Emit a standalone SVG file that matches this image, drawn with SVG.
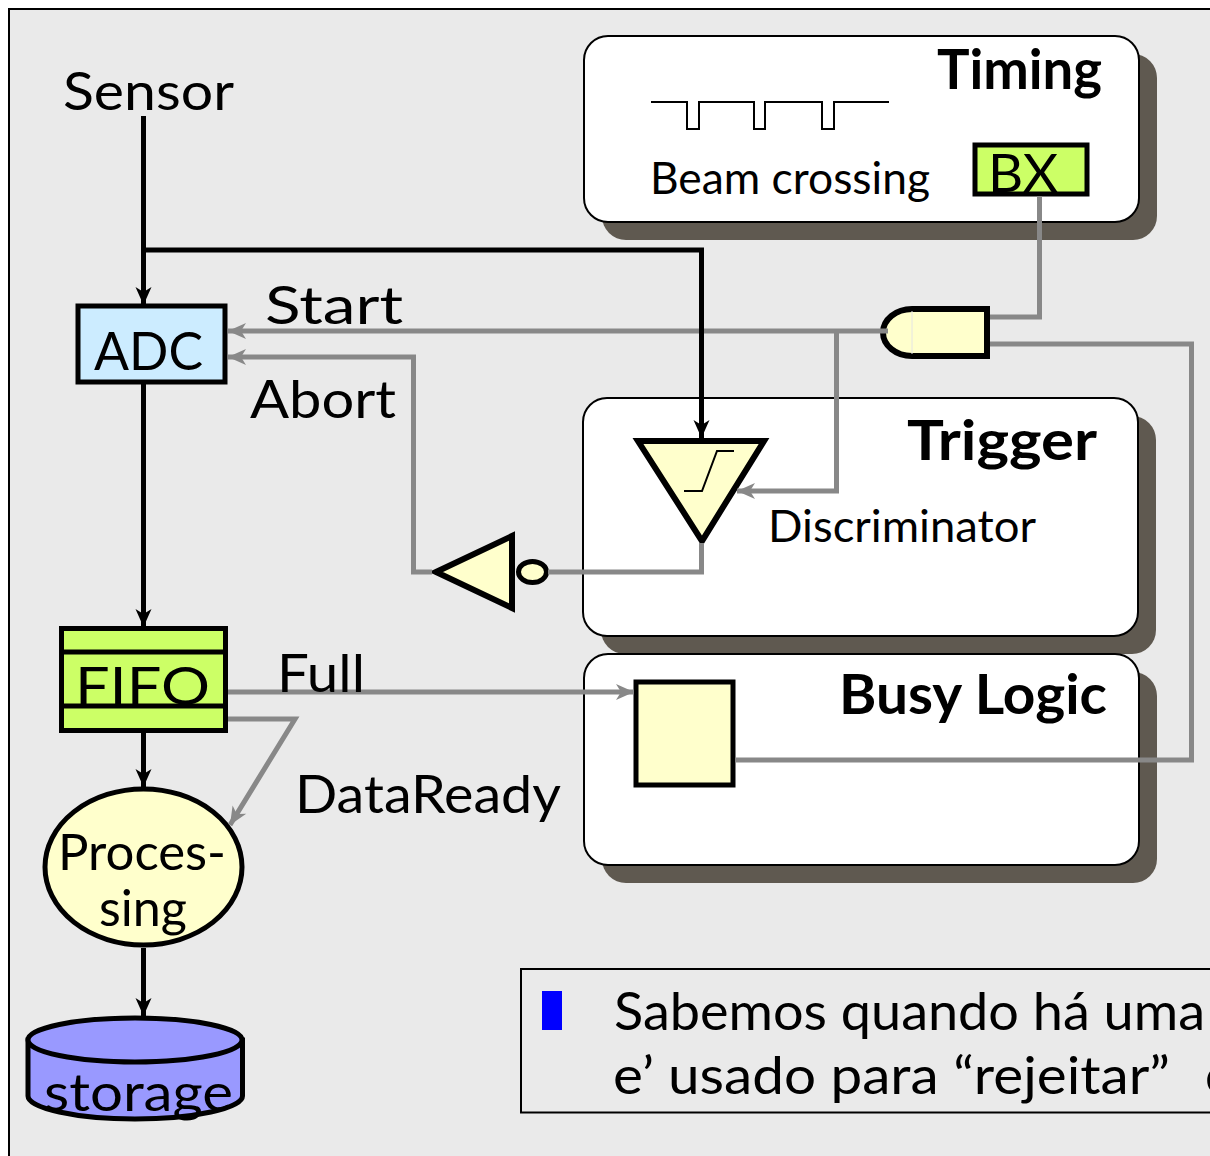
<svg xmlns="http://www.w3.org/2000/svg" width="1210" height="1156" viewBox="0 0 1210 1156">
<style>
text{font-family:"Lato","Noto Sans",sans-serif;fill:#000;font-size:52px}
.b{font-weight:700;font-size:56px}
.s{font-size:44px}
.panel{fill:#fff;stroke:#000;stroke-width:2}
.shadow{fill:#5f5950}
.n{stroke:#000;stroke-width:5;stroke-linejoin:miter}
.w{stroke-width:6}
.y{fill:#ffffcc}
.g{fill:#ccff66}
.k{fill:none;stroke:#000;stroke-width:5;stroke-linejoin:miter}
.a{fill:none;stroke:#888;stroke-width:5;stroke-linejoin:miter}
.t{fill:none;stroke:#000;stroke-width:2}
.ka{marker-end:url(#ah)}
.ga{marker-end:url(#gh)}
</style>
<defs>
<marker id="ah" markerUnits="userSpaceOnUse" markerWidth="22" markerHeight="22" refX="19" refY="11" orient="auto" overflow="visible"><path d="M19,11 L1,3 L6,11 L1,19 Z" fill="#000"/></marker>
<marker id="gh" markerUnits="userSpaceOnUse" markerWidth="22" markerHeight="22" refX="19" refY="11" orient="auto" overflow="visible"><path d="M19,11 L1,3 L6,11 L1,19 Z" fill="#888"/></marker>
</defs>
<rect width="1210" height="1156" fill="#fff"/>
<rect x="9" y="9" width="1210" height="1160" fill="#eaeaea" stroke="#000" stroke-width="2"/>

<g id="timing">
<rect class="shadow" x="602" y="54" width="555" height="186" rx="24"/>
<rect class="panel" x="584" y="36" width="555" height="186" rx="24"/>
<text class="b" x="937" y="89" textLength="165" lengthAdjust="spacingAndGlyphs">Timing</text>
<polyline class="t" points="651,102 687,102 687,129 699,129 699,102 754,102 754,129 765,129 765,102 822,102 822,129 834,129 834,102 889,102"/>
<text class="s" x="650" y="194" textLength="280" lengthAdjust="spacingAndGlyphs">Beam crossing</text>
</g>
<g id="bx">
<rect class="n g" x="975" y="145" width="112" height="49"/>
<text x="988" y="192" textLength="70" lengthAdjust="spacingAndGlyphs">BX</text>
</g>
<g id="trigger">
<rect class="shadow" x="601" y="416" width="555" height="238" rx="24"/>
<rect class="panel" x="583" y="398" width="555" height="238" rx="24"/>
<text class="b" x="907" y="460" textLength="190" lengthAdjust="spacingAndGlyphs">Trigger</text>
<text class="s" x="768" y="542" textLength="268" lengthAdjust="spacingAndGlyphs">Discriminator</text>
</g>
<g id="busy-logic">
<rect class="shadow" x="602" y="672" width="555" height="211" rx="24"/>
<rect class="panel" x="584" y="654" width="555" height="211" rx="24"/>
<text class="b" x="839" y="714" textLength="268" lengthAdjust="spacingAndGlyphs">Busy Logic</text>
</g>
<g id="busy-box"><rect class="n y" x="636" y="682" width="97" height="103"/></g>
<g id="discriminator">
<polygon class="n w" fill="#ffffcc" points="638,441 764,441 702,541"/>
<polyline class="t" points="684,491 702,491 717,451 734,451"/>
</g>
<g id="inverter">
<polygon class="n w" fill="#ffffcc" points="436,572 512,536 512,608"/>
<ellipse class="n y" cx="532.500" cy="572" rx="14" ry="10.500"/>
</g>
<g id="and-gate">
<path class="n w y" d="M912,309 H987 V356 H912 A29,23.500 0 0 1 912,309 Z"/>
<line x1="912" y1="311" x2="912" y2="354" stroke="#e4e4e4" stroke-width="1"/>
</g>
<g id="adc">
<rect class="n" x="78" y="306" width="147" height="76" fill="#ccecff"/>
<text x="94" y="370" textLength="109" lengthAdjust="spacingAndGlyphs">ADC</text>
</g>
<g id="fifo">
<rect class="n g" x="61.500" y="628.500" width="164" height="102"/>
<line class="k" x1="61" y1="652" x2="226" y2="652"/>
<line class="k" x1="61" y1="706" x2="226" y2="706"/>
<text x="75" y="705" textLength="135" lengthAdjust="spacingAndGlyphs">FIFO</text>
</g>
<g id="processing">
<ellipse class="n y" cx="143.500" cy="867" rx="98.500" ry="78"/>
<text x="58" y="870" style="font-size:50px" textLength="168" lengthAdjust="spacingAndGlyphs">Proces-</text>
<text x="99" y="926" style="font-size:50px" textLength="88" lengthAdjust="spacingAndGlyphs">sing</text>
</g>
<g id="storage">
<path class="n" fill="#9999ff" d="M28,1040 V1096 C28,1108 76,1119 135,1119 C194,1119 242.500,1108 242.500,1096 V1040 Z"/>
<ellipse class="n" fill="#9999ff" cx="135" cy="1040" rx="107" ry="22"/>
<text x="44" y="1111" textLength="189" lengthAdjust="spacingAndGlyphs">storage</text>
</g>
<g id="connectors">
<polyline class="a ga" points="888,331 228,331"/>
<polyline class="a ga" points="432,572 413.500,572 413.500,357 228,357"/>
<polyline class="a ga" points="836.500,331 836.500,491 737,491"/>
<polyline class="a" points="701.500,543 701.500,572 548,572"/>
<polyline class="a" points="1039.500,196 1039.500,317 990,317"/>
<polyline class="a" points="990,344 1191.500,344 1191.500,760 735,760"/>
<polyline class="a ga" points="228,692 634,692"/>
<polyline class="a ga" points="228,719 295,719 230,825"/>
<polyline class="k ka" points="143.500,116 143.500,305"/>
<polyline class="k ka" points="143.500,250 701.500,250 701.500,438"/>
<polyline class="k ka" points="143.500,384 143.500,627"/>
<polyline class="k ka" points="143.500,733 143.500,787"/>
<polyline class="k ka" points="143.500,948 143.500,1016"/>
</g>
<g id="labels">
<text x="63" y="110" textLength="171" lengthAdjust="spacingAndGlyphs">Sensor</text>
<text x="265" y="324" textLength="138" lengthAdjust="spacingAndGlyphs">Start</text>
<text x="250" y="418" textLength="146" lengthAdjust="spacingAndGlyphs">Abort</text>
<text x="277" y="692" textLength="88" lengthAdjust="spacingAndGlyphs">Full</text>
<text x="295" y="813" textLength="266" lengthAdjust="spacingAndGlyphs">DataReady</text>
</g>
<g id="note">
<rect x="521" y="969" width="720" height="143.500" fill="none" stroke="#000" stroke-width="2"/>
<rect x="542" y="991" width="20" height="39" fill="#0000ff"/>
<text x="614" y="1030" textLength="591" lengthAdjust="spacingAndGlyphs">Sabemos quando há uma</text>
<text x="613" y="1094" textLength="557" lengthAdjust="spacingAndGlyphs">e’ usado para “rejeitar”</text>
<text x="1205" y="1094">o</text>
</g>
</svg>
